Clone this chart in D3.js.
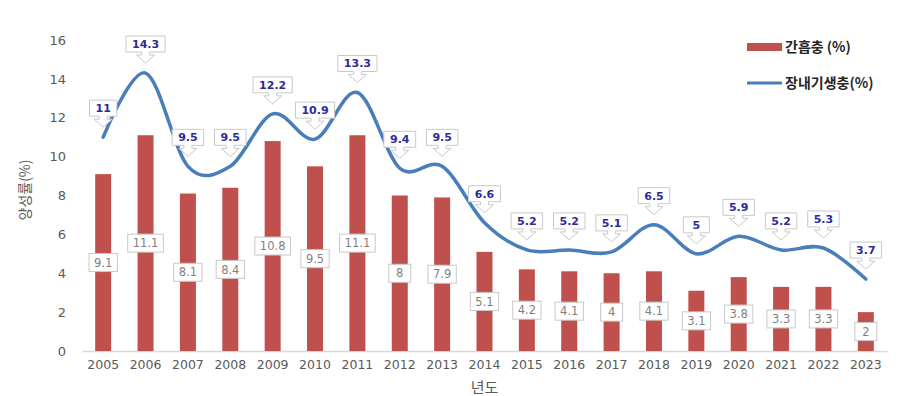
<!DOCTYPE html>
<html>
<head>
<meta charset="utf-8">
<script src="https://cdn.jsdelivr.net/npm/d3@7"></script>
<style>
  body { margin: 0; background: #fff; }
  text { font-family: "DejaVu Sans", sans-serif; }
  .kr { font-family: "Noto Sans CJK KR", sans-serif; }
</style>
</head>
<body>
<div class="chart"></div>
<script>
// data
const years = ["2005","2006","2007","2008","2009","2010","2011","2012","2013","2014",
               "2015","2016","2017","2018","2019","2020","2021","2022","2023"];
const clonorchis = [9.1, 11.1, 8.1, 8.4, 10.8, 9.5, 11.1, 8, 7.9, 5.1,
                    4.2, 4.1, 4, 4.1, 3.1, 3.8, 3.3, 3.3, 2];
const intestinal = [11, 14.3, 9.5, 9.5, 12.2, 10.9, 13.3, 9.4, 9.5, 6.6,
                    5.2, 5.2, 5.1, 6.5, 5, 5.9, 5.2, 5.3, 3.7];
const yTicks = [0, 2, 4, 6, 8, 10, 12, 14, 16];
const seriesNames = ["간흡충 (%)", "장내기생충(%)"];

const width = 913, height = 396;
const margin = { top: 40, right: 26, bottom: 45, left: 82 };
const innerW = width - margin.left - margin.right;
const innerH = height - margin.top - margin.bottom;

const barColor = "#c0504d";
const lineColor = "#4a7ebb";
const tickColor = "#595959";

const svg = d3.select("div.chart")
    .append("svg")
        .attr("width", width)
        .attr("height", height);

const g = svg.append("g")
    .attr("transform", `translate(${margin.left},${margin.top})`);

const x = d3.scaleBand()
    .domain(years)
    .range([0, innerW]);
const y = d3.scaleLinear()
    .domain([0, 16])
    .range([innerH, 0]);

// axes
const yAxis = d3.axisLeft(y).tickValues(yTicks).tickSize(0).tickPadding(16);
g.append("g")
    .call(yAxis)
    .call(a => a.select(".domain").remove())
    .selectAll("text")
        .attr("fill", tickColor)
        .style("font-size", "13px");

const xAxis = d3.axisBottom(x).tickSize(0).tickPadding(9);
g.append("g")
    .attr("transform", `translate(0,${innerH})`)
    .call(xAxis)
    .call(a => a.select(".domain").attr("stroke", "#d9d9d9").attr("stroke-width", 1.5))
    .selectAll("text")
        .attr("fill", tickColor)
        .style("font-size", "12.5px");

// axis titles
svg.append("text")
    .attr("class", "kr")
    .attr("transform", `translate(30,190) rotate(-90)`)
    .attr("text-anchor", "middle")
    .attr("fill", tickColor)
    .style("font-size", "14px")
    .text("양성률(%)");

svg.append("text")
    .attr("class", "kr")
    .attr("x", margin.left + innerW / 2)
    .attr("y", 393)
    .attr("text-anchor", "middle")
    .attr("fill", tickColor)
    .style("font-size", "15px")
    .text("년도");

// bars
const barW = 16;
g.append("g")
    .selectAll("rect")
    .data(clonorchis)
    .join("rect")
        .attr("x", (d, i) => x(years[i]) + x.bandwidth() / 2 - barW / 2)
        .attr("y", d => y(d))
        .attr("width", barW)
        .attr("height", d => innerH - y(d))
        .attr("fill", barColor);

// smoothed line
const line = d3.line()
    .x((d, i) => x(years[i]) + x.bandwidth() / 2)
    .y(d => y(d))
    .curve(d3.curveCardinal.tension(0));
g.append("path")
    .datum(intestinal)
    .attr("d", line)
    .attr("fill", "none")
    .attr("stroke", lineColor)
    .attr("stroke-width", 3.5)
    .attr("stroke-linecap", "round");

// bar labels (centered in bar)
const barLabels = g.append("g")
    .selectAll("g")
    .data(clonorchis)
    .join("g")
        .attr("transform", (d, i) => `translate(${x(years[i]) + x.bandwidth() / 2},${y(d / 2)})`);
barLabels.append("text")
    .attr("text-anchor", "middle")
    .attr("dy", "0.36em")
    .attr("fill", "#7f7f7f")
    .style("font-size", "11.5px")
    .text(d => d);
barLabels.each(function() {
    const s = d3.select(this);
    const bb = s.select("text").node().getBBox();
    const w = Math.max(bb.width + 10, 22);
    s.insert("rect", "text")
        .attr("x", -w / 2)
        .attr("y", -9)
        .attr("width", w)
        .attr("height", 18)
        .attr("fill", "#fff")
        .attr("stroke", "#c8c8c8")
        .attr("stroke-width", 1);
});

// line labels (down-arrow callouts)
const lineLabels = g.append("g")
    .selectAll("g")
    .data(intestinal)
    .join("g")
        .attr("transform", (d, i) => `translate(${x(years[i]) + x.bandwidth() / 2},${y(d)})`);
lineLabels.append("text")
    .attr("text-anchor", "middle")
    .attr("y", -29)
    .attr("dy", "0.36em")
    .attr("fill", "#2b2b99")
    .style("font-size", "11px")
    .style("font-weight", "bold")
    .text(d => d);
lineLabels.each(function() {
    const s = d3.select(this);
    const bb = s.select("text").node().getBBox();
    const w = Math.max(bb.width + 12, 26);
    const top = -37, bot = -21;
    // box with stem and arrowhead
    const p = d3.path();
    p.moveTo(-w / 2, top);
    p.lineTo(w / 2, top);
    p.lineTo(w / 2, bot);
    p.lineTo(4, bot);
    p.lineTo(4, bot + 3);
    p.lineTo(9, bot + 3);
    p.lineTo(0, bot + 11);
    p.lineTo(-9, bot + 3);
    p.lineTo(-4, bot + 3);
    p.lineTo(-4, bot);
    p.lineTo(-w / 2, bot);
    p.closePath();
    s.insert("path", "text")
        .attr("d", p.toString())
        .attr("fill", "#fff")
        .attr("stroke", "#c8c8c8")
        .attr("stroke-width", 1);
});

// legend
const legend = svg.append("g").attr("transform", "translate(747,0)");
legend.append("rect")
    .attr("x", 0).attr("y", 43)
    .attr("width", 35).attr("height", 8)
    .attr("fill", barColor);
legend.append("line")
    .attr("x1", 0).attr("x2", 35)
    .attr("y1", 83).attr("y2", 83)
    .attr("stroke", lineColor)
    .attr("stroke-width", 3);
legend.selectAll("text.leg")
    .data(seriesNames)
    .join("text")
        .attr("class", "kr leg")
        .attr("x", 38)
        .attr("y", (d, i) => 47 + i * 36)
        .attr("dy", "0.36em")
        .attr("fill", "#262626")
        .style("font-size", "14px")
        .style("font-weight", "bold")
        .text(d => d);
</script>
</body>
</html>
